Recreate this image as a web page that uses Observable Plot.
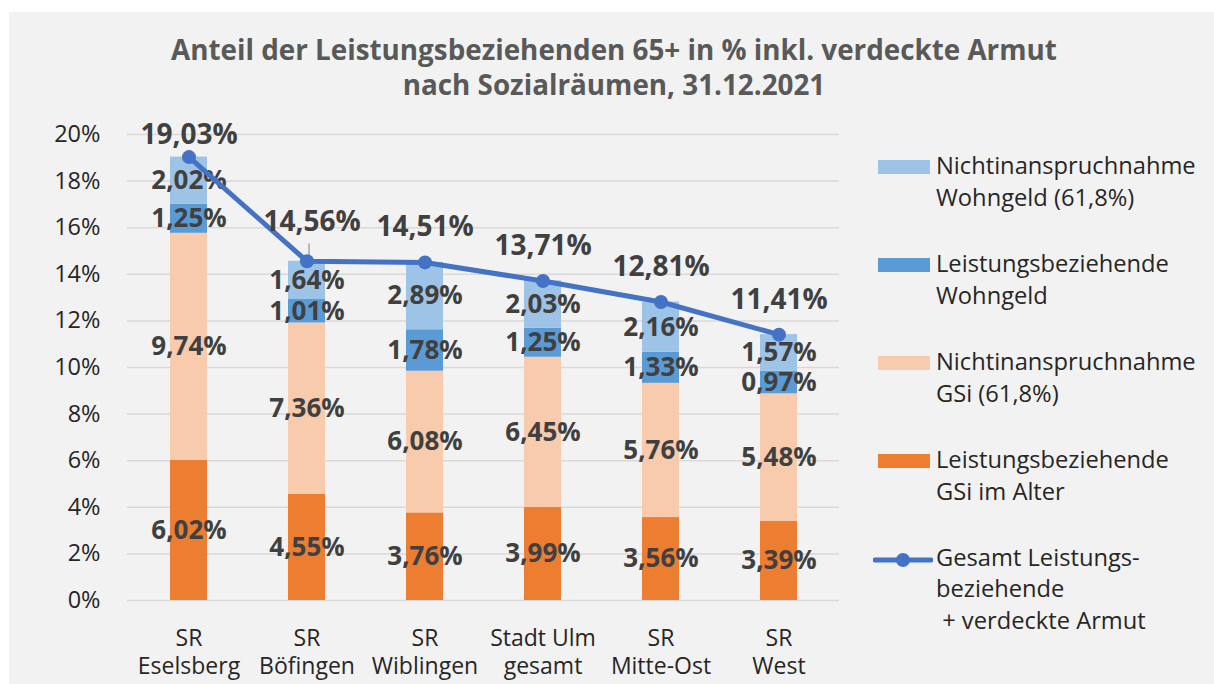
<!DOCTYPE html>
<html>
<head>
<meta charset="utf-8">
<script src="https://cdn.jsdelivr.net/npm/d3@7"></script>
<script src="https://cdn.jsdelivr.net/npm/@observablehq/plot@0.6"></script>
<style>
  html, body { margin: 0; padding: 0; background: #ffffff; }
  body { width: 1214px; height: 684px; position: relative; overflow: hidden; font-family: "Open Sans", sans-serif; }
  #panel { position: absolute; left: 9px; top: 12px; right: 0; bottom: 0; background: #f2f2f2; }
  #title { position: absolute; left: 114px; width: 1000px; top: 32px; text-align: center; font-weight: bold; font-size: 27.8px; line-height: 35px; color: #595959; }
  #chart { position: absolute; left: 0; top: 0; }
  .lg-swatch { position: absolute; left: 878px; width: 52px; height: 14px; }
  .lg-text { position: absolute; left: 936px; font-size: 23.7px; line-height: 31.7px; color: #262626; white-space: pre; }
</style>
</head>
<body>
<div id="panel"></div>
<div id="title">Anteil der Leistungsbeziehenden 65+ in % inkl. verdeckte Armut<br>nach Sozialräumen, 31.12.2021</div>
<div id="chart"></div>
<div id="legend"></div>
<script>
// ---- data ----
const categories = ["SR\nEselsberg", "SR\nBöfingen", "SR\nWiblingen", "Stadt Ulm\ngesamt", "SR\nMitte-Ost", "SR\nWest"];
const gsiBezug  = [6.02, 4.55, 3.76, 3.99, 3.56, 3.39];   // Leistungsbeziehende GSi im Alter
const gsiNicht  = [9.74, 7.36, 6.08, 6.45, 5.76, 5.48];   // Nichtinanspruchnahme GSi (61,8%)
const wgBezug   = [1.25, 1.01, 1.78, 1.25, 1.33, 0.97];   // Leistungsbeziehende Wohngeld
const wgNicht   = [2.02, 1.64, 2.89, 2.03, 2.16, 1.57];   // Nichtinanspruchnahme Wohngeld (61,8%)
const gesamt    = [19.03, 14.56, 14.51, 13.71, 12.81, 11.41]; // Gesamt
const seriesNames = ["Leistungsbeziehende GSi im Alter", "Nichtinanspruchnahme GSi (61,8%)", "Leistungsbeziehende Wohngeld", "Nichtinanspruchnahme Wohngeld (61,8%)"];
const seriesColors = ["#ED7D31", "#F8CBAD", "#5B9BD5", "#9DC3E6"];
const yTicks = [0, 2, 4, 6, 8, 10, 12, 14, 16, 18, 20];
const lineName = "Gesamt Leistungs-\nbeziehende\n + verdeckte Armut";
const lineColor = "#4472C4";

// ---- tables ----
const seriesValues = [gsiBezug, gsiNicht, wgBezug, wgNicht];
const rows = categories.flatMap((c, i) => seriesNames.map((s, j) => ({cat: c, series: s, value: seriesValues[j][i]})));
const totals = categories.map((c, i) => ({cat: c, value: gesamt[i], i}));
const fmt = v => v.toFixed(2).replace(".", ",") + "%";

const chart = Plot.plot({
  width: 860,
  height: 684,
  marginLeft: 127,
  marginRight: 21,
  marginTop: 134,
  marginBottom: 84,
  style: {background: "transparent", fontFamily: "'Open Sans', sans-serif", overflow: "visible"},
  x: {domain: categories, paddingInner: 0.69, paddingOuter: 0.345, align: 0.5},
  y: {domain: [0, 20]},
  color: {domain: seriesNames, range: seriesColors},
  marks: [
    Plot.gridY(yTicks, {stroke: "#d9d9d9", strokeOpacity: 1, strokeWidth: 1.5}),
    Plot.axisY(yTicks, {tickSize: 0, tickPadding: 27, tickFormat: d => d + "%", fontSize: 23.5, fill: "#262626", label: null}),
    Plot.axisX({tickSize: 0, tickPadding: 25, fontSize: 23, fill: "#262626", lineHeight: 1.24, label: null}),
    Plot.barY(rows, {x: "cat", y: "value", fill: "series"}),
    Plot.text(rows, Plot.stackY({x: "cat", y: "value", text: d => fmt(d.value), fontSize: 26, fontWeight: "bold", fill: "#404040"})),
    Plot.ruleX(totals.filter(d => d.i === 1), {x: "cat", y1: d => d.value + 0.05, y2: d => d.value + 0.75, stroke: "#a6a6a6", strokeWidth: 1.5, dx: 2}),
    Plot.line(totals, {x: "cat", y: "value", stroke: lineColor, strokeWidth: 5}),
    Plot.dot(totals, {x: "cat", y: "value", r: 7, fill: lineColor}),
    Plot.text(totals.filter(d => d.i === 0), {x: "cat", y: "value", text: d => fmt(d.value), dy: -22, fontSize: 28, fontWeight: "bold", fill: "#404040"}),
    Plot.text(totals.filter(d => d.i === 1), {x: "cat", y: "value", text: d => fmt(d.value), dy: -39, dx: 5, fontSize: 28, fontWeight: "bold", fill: "#404040"}),
    Plot.text(totals.filter(d => d.i > 1), {x: "cat", y: "value", text: d => fmt(d.value), dy: -35, fontSize: 28, fontWeight: "bold", fill: "#404040"})
  ]
});
document.getElementById("chart").appendChild(chart);

// ---- legend (top to bottom: reverse stacking order, then line) ----
const legend = document.getElementById("legend");
const legendItems = [
  {label: "Nichtinanspruchnahme\nWohngeld (61,8%)", color: seriesColors[3]},
  {label: "Leistungsbeziehende\nWohngeld", color: seriesColors[2]},
  {label: "Nichtinanspruchnahme\nGSi (61,8%)", color: seriesColors[1]},
  {label: "Leistungsbeziehende\nGSi im Alter", color: seriesColors[0]}
];
legendItems.forEach((it, k) => {
  const top = 150 + k * 98;
  const sw = document.createElement("div");
  sw.className = "lg-swatch";
  sw.style.top = (top + 10) + "px";
  sw.style.background = it.color;
  legend.appendChild(sw);
  const tx = document.createElement("div");
  tx.className = "lg-text";
  tx.style.top = top + "px";
  tx.textContent = it.label;
  legend.appendChild(tx);
});
{
  const top = 150 + 4 * 98 - 0.5;
  const ns = "http://www.w3.org/2000/svg";
  const svg = document.createElementNS(ns, "svg");
  svg.setAttribute("width", 60); svg.setAttribute("height", 20);
  svg.style.position = "absolute"; svg.style.left = "873px"; svg.style.top = (top + 8) + "px";
  const ln = document.createElementNS(ns, "line");
  ln.setAttribute("x1", 2); ln.setAttribute("x2", 58); ln.setAttribute("y1", 10); ln.setAttribute("y2", 10);
  ln.setAttribute("stroke", lineColor); ln.setAttribute("stroke-width", 5); ln.setAttribute("stroke-linecap", "round");
  const c = document.createElementNS(ns, "circle");
  c.setAttribute("cx", 30); c.setAttribute("cy", 10); c.setAttribute("r", 7); c.setAttribute("fill", lineColor);
  svg.appendChild(ln); svg.appendChild(c);
  legend.appendChild(svg);
  const tx = document.createElement("div");
  tx.className = "lg-text";
  tx.style.top = top + "px";
  tx.textContent = lineName;
  legend.appendChild(tx);
}
</script>
</body>
</html>
